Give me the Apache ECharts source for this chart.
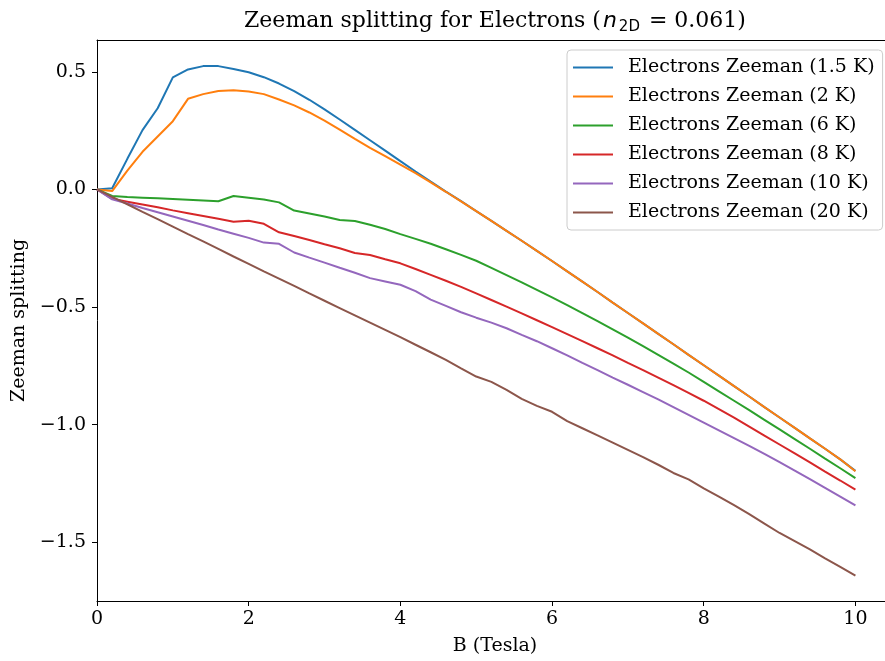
<!DOCTYPE html>
<html>
<head>
<meta charset="utf-8">
<script src="https://cdn.jsdelivr.net/npm/echarts@6/dist/echarts.min.js"></script>
<style>
  html, body { margin: 0; padding: 0; background: #ffffff; overflow: hidden; }
  #chart { width: 885px; height: 661px; }
</style>
</head>
<body>
<div id="chart"></div>
<script>
// Magnetic field (Tesla)
const B = [
  0, 0.2, 0.4, 0.6, 0.8, 1.0, 1.2, 1.4, 1.6, 1.8,
  2.0, 2.2, 2.4, 2.6, 2.8, 3.0, 3.2, 3.4, 3.6, 3.8,
  4.0, 4.2, 4.4, 4.6, 4.8, 5.0, 5.2, 5.4, 5.6, 5.8,
  6.0, 6.2, 6.4, 6.6, 6.8, 7.0, 7.2, 7.4, 7.6, 7.8,
  8.0, 8.2, 8.4, 8.6, 8.8, 9.0, 9.2, 9.4, 9.6, 9.8, 10.0
];

// Zeeman splitting at each temperature
const zeeman_1p5K = [
  0.000, 0.005, 0.130, 0.252, 0.345, 0.476, 0.510, 0.524, 0.524, 0.512,
  0.498, 0.477, 0.450, 0.418, 0.381, 0.340, 0.297, 0.253, 0.209, 0.165,
  0.120, 0.076, 0.033, -0.009, -0.050, -0.092, -0.134, -0.176, -0.218, -0.261,
  -0.304, -0.348, -0.392, -0.436, -0.481, -0.525, -0.569, -0.614, -0.658, -0.703,
  -0.747, -0.791, -0.836, -0.880, -0.925, -0.969, -1.013, -1.058, -1.102, -1.147, -1.196
];
const zeeman_2K = [
  0.000, -0.007, 0.080, 0.160, 0.225, 0.290, 0.385, 0.405, 0.418, 0.421,
  0.416, 0.405, 0.382, 0.357, 0.327, 0.292, 0.254, 0.215, 0.177, 0.141,
  0.105, 0.069, 0.030, -0.010, -0.051, -0.092, -0.134, -0.176, -0.218, -0.261,
  -0.304, -0.348, -0.392, -0.436, -0.481, -0.525, -0.569, -0.614, -0.658, -0.703,
  -0.747, -0.791, -0.836, -0.880, -0.925, -0.969, -1.013, -1.058, -1.102, -1.147, -1.198
];
const zeeman_6K = [
  0.000, -0.028, -0.032, -0.035, -0.038, -0.041, -0.044, -0.047, -0.050, -0.028,
  -0.035, -0.043, -0.055, -0.090, -0.102, -0.115, -0.130, -0.134, -0.150, -0.168,
  -0.190, -0.210, -0.231, -0.254, -0.278, -0.303, -0.333, -0.364, -0.395, -0.427,
  -0.459, -0.492, -0.526, -0.560, -0.595, -0.630, -0.666, -0.703, -0.740, -0.778,
  -0.818, -0.858, -0.898, -0.938, -0.979, -1.020, -1.061, -1.102, -1.144, -1.185, -1.227
];
const zeeman_8K = [
  0.000, -0.040, -0.052, -0.064, -0.076, -0.089, -0.101, -0.113, -0.125, -0.137,
  -0.133, -0.146, -0.182, -0.198, -0.215, -0.233, -0.250, -0.270, -0.279, -0.297,
  -0.314, -0.338, -0.363, -0.388, -0.414, -0.442, -0.470, -0.498, -0.527, -0.556,
  -0.585, -0.615, -0.645, -0.675, -0.705, -0.737, -0.768, -0.800, -0.832, -0.865,
  -0.898, -0.934, -0.970, -1.008, -1.046, -1.084, -1.122, -1.160, -1.199, -1.237, -1.276
];
const zeeman_10K = [
  0.000, -0.042, -0.060, -0.079, -0.097, -0.115, -0.133, -0.151, -0.170, -0.188,
  -0.206, -0.226, -0.231, -0.268, -0.290, -0.311, -0.333, -0.354, -0.377, -0.391,
  -0.405, -0.432, -0.468, -0.495, -0.522, -0.545, -0.566, -0.590, -0.618, -0.645,
  -0.675, -0.705, -0.737, -0.768, -0.800, -0.830, -0.861, -0.892, -0.925, -0.958,
  -0.991, -1.024, -1.057, -1.090, -1.124, -1.159, -1.195, -1.231, -1.268, -1.305, -1.343
];
const zeeman_20K = [
  0.000, -0.032, -0.063, -0.095, -0.126, -0.158, -0.190, -0.221, -0.253, -0.285,
  -0.316, -0.348, -0.379, -0.410, -0.442, -0.473, -0.504, -0.535, -0.566, -0.597,
  -0.628, -0.660, -0.692, -0.724, -0.760, -0.795, -0.818, -0.852, -0.890, -0.920,
  -0.945, -0.985, -1.015, -1.045, -1.076, -1.107, -1.138, -1.170, -1.205, -1.232,
  -1.270, -1.305, -1.342, -1.380, -1.420, -1.460, -1.495, -1.530, -1.568, -1.604, -1.641
];

const seriesNames = [
  'Electrons Zeeman (1.5 K)',
  'Electrons Zeeman (2 K)',
  'Electrons Zeeman (6 K)',
  'Electrons Zeeman (8 K)',
  'Electrons Zeeman (10 K)',
  'Electrons Zeeman (20 K)'
];
const seriesValues = [zeeman_1p5K, zeeman_2K, zeeman_6K, zeeman_8K, zeeman_10K, zeeman_20K];
const colors = ['#1f77b4', '#ff7f0e', '#2ca02c', '#d62728', '#9467bd', '#8c564b'];

const xTicks = [0, 2, 4, 6, 8, 10];
const yTicks = [-1.5, -1.0, -0.5, 0.0, 0.5];

const serif = 'DejaVu Serif';
const fs = 19;
const fmtY = v => v.toFixed(1).replace('-', '\u2212');

const chart = echarts.init(document.getElementById('chart'), null, { renderer: 'canvas', width: 885, height: 661 });

const axisLineStyle = { color: '#000000', width: 1 };

chart.setOption({
  animation: false,
  color: colors,
  title: {
    text: 'Zeeman splitting for Electrons ({n|n}{sub|2D} = 0.061)',
    left: 495,
    top: 7,
    padding: 0,
    textAlign: 'center',
    textStyle: {
      fontFamily: serif,
      fontSize: 22,
      fontWeight: 'normal',
      color: '#000000',
      lineHeight: 28,
      rich: {
        n: { fontFamily: 'DejaVu Sans', fontStyle: 'italic', fontSize: 22, color: '#000000', lineHeight: 28, padding: [0, 1, 0, 2] },
        sub: { fontFamily: 'DejaVu Sans', fontSize: 15, color: '#000000', verticalAlign: 'bottom', lineHeight: 15, padding: [0, 2, 0, 1] }
      }
    }
  },
  legend: {
    data: seriesNames,
    orient: 'vertical',
    left: 567,
    top: 50,
    padding: [8, 8, 8, 6],
    icon: 'rect',
    itemWidth: 40,
    itemHeight: 2,
    itemGap: 10,
    selectedMode: false,
    backgroundColor: 'rgba(255,255,255,0.8)',
    borderColor: '#cccccc',
    borderWidth: 1,
    borderRadius: 4,
    textStyle: {
      fontFamily: serif,
      fontSize: fs,
      color: '#000000',
      padding: [0, 0, 0, 10]
    }
  },
  grid: {
    left: 97,
    right: 0,
    top: 40,
    height: 565,
    containLabel: false
  },
  xAxis: [
    {
      type: 'value',
      min: 0,
      max: 10.39,
      name: 'B (Tesla)',
      nameLocation: 'middle',
      nameGap: 36,
      nameTextStyle: { fontFamily: serif, fontSize: fs, color: '#000000', padding: [0, 0, 0, 8] },
      axisLine: { show: true, onZero: false, lineStyle: axisLineStyle },
      axisTick: { show: true, length: 5, customValues: xTicks, lineStyle: axisLineStyle },
      axisLabel: {
        customValues: xTicks,
        margin: 9,
        fontFamily: serif,
        fontSize: fs,
        color: '#000000',
        formatter: v => String(v)
      },
      splitLine: { show: false }
    },
    {
      type: 'value',
      position: 'top',
      min: 0,
      max: 10.39,
      axisLine: { show: true, onZero: false, lineStyle: axisLineStyle },
      axisTick: { show: false },
      axisLabel: { show: false },
      splitLine: { show: false }
    }
  ],
  yAxis: {
    type: 'value',
    min: -1.749,
    max: 0.635,
    name: 'Zeeman splitting',
    nameLocation: 'middle',
    nameGap: 66,
    nameRotate: 90,
    nameTextStyle: { fontFamily: serif, fontSize: fs, color: '#000000' },
    axisLine: { show: true, onZero: false, lineStyle: axisLineStyle },
    axisTick: { show: true, length: 5, customValues: yTicks, lineStyle: axisLineStyle },
    axisLabel: {
      customValues: yTicks,
      margin: 11,
      fontFamily: serif,
      fontSize: fs,
      color: '#000000',
      formatter: fmtY
    },
    splitLine: { show: false }
  },
  series: seriesNames.map((name, i) => ({
    name: name,
    type: 'line',
    xAxisIndex: 0,
    data: B.map((b, j) => [b, seriesValues[i][j]]),
    symbol: 'none',
    showSymbol: false,
    smooth: false,
    lineStyle: { width: 2, color: colors[i] },
    itemStyle: { color: colors[i] },
    emphasis: { disabled: true }
  }))
});
</script>
</body>
</html>
